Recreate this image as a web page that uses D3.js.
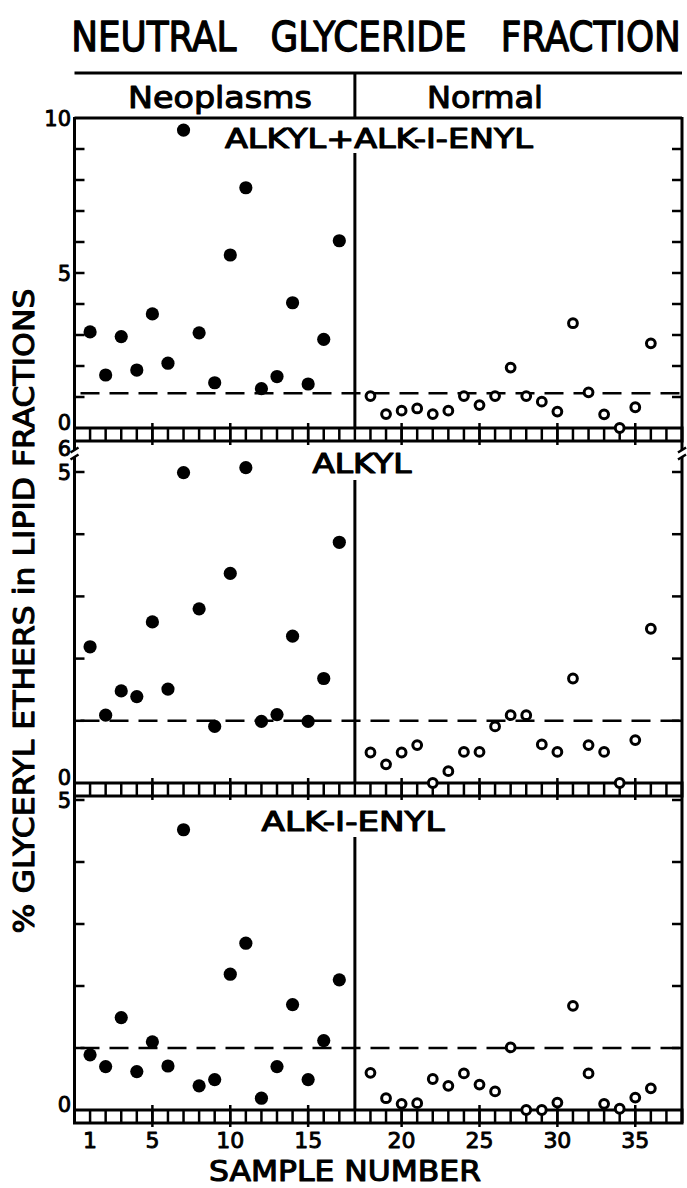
<!DOCTYPE html>
<html>
<head>
<meta charset="utf-8">
<script src="https://cdn.jsdelivr.net/npm/d3@7"></script>
<style>
  html, body { margin: 0; padding: 0; background: #fff; }
  svg { display: block; }
  text { font-family: "DejaVu Sans", sans-serif; fill: #000; }
</style>
</head>
<body>
<svg id="chart" width="687" height="1188"></svg>
<script>
// ---------------- DATA ----------------
const neoSamples  = [1,2,3,4,5,6,7,8,9,10,11,12,13,14,15,16,17];
const normSamples = [18,19,20,21,22,23,24,25,26,27,28,29,30,31,32,33,34,35,36];
const xTickLabels = [1,5,10,15,20,25,30,35];
const stripTicks  = [5,10,15,20,25,30,35];

const chartTitle  = "NEUTRAL   GLYCERIDE   FRACTION";
const panelTitles = ["ALKYL+ALK-I-ENYL", "ALKYL", "ALK-I-ENYL"];

const combinedNeo  = [3.10,1.71,2.95,1.87,3.68,2.09,9.61,3.07,1.46,5.58,7.75,1.27,1.66,4.04,1.42,2.86,6.04];
const combinedNorm = [1.03,0.45,0.56,0.63,0.45,0.56,1.03,0.74,1.03,1.95,1.03,0.85,0.53,3.38,1.15,0.44,0.00,0.67,2.73];

const alkylNeo  = [2.19,1.09,1.48,1.39,2.59,1.51,4.99,2.80,0.91,3.37,5.07,0.99,1.10,2.36,0.99,1.68,3.87];
const alkylNorm = [0.49,0.30,0.49,0.61,0.00,0.19,0.50,0.50,0.91,1.09,1.09,0.62,0.50,1.68,0.61,0.50,0.00,0.69,2.48];

const alkenylNeo  = [0.89,0.70,1.49,0.62,1.10,0.71,4.52,0.39,0.49,2.19,2.69,0.19,0.70,1.70,0.49,1.12,2.10];
const alkenylNorm = [0.60,0.19,0.10,0.11,0.50,0.39,0.59,0.41,0.30,1.01,0.00,0.00,0.12,1.68,0.59,0.10,0.02,0.20,0.35];

const refLines = [1.12, 1.0, 1.0];
const yMax     = [10, 5, 5];
const yTickLabelsList = [[0,5,10],[0,5],[0,5]];

// ---------------- LAYOUT ----------------
const svg = d3.select("#chart");
const BLACK = "#000";
const xLeft = 74.5, xRight = 682;
const x = d3.scaleLinear().domain([0, 39]).range([xLeft, xRight]);
const pos = s => (s <= 17 ? s : s + 1);   // one empty slot at the group divider
const dividerPos = 18;

const panels = [
  { y: d3.scaleLinear().domain([0, yMax[0]]).range([428, 118]), divTop: 153, titleY: 148, titleX: 379, titleLen: 308,
    neo: combinedNeo, norm: combinedNorm },
  { y: d3.scaleLinear().domain([0, yMax[1]]).range([783, 472]), divTop: 480, titleY: 473, titleX: 362, titleLen: 99,
    neo: alkylNeo, norm: alkylNorm },
  { y: d3.scaleLinear().domain([0, yMax[2]]).range([1110, 800]), divTop: 837, titleY: 831, titleX: 353, titleLen: 183,
    neo: alkenylNeo, norm: alkenylNorm }
];
const stripH = 13;

function heavy(sel, w) { return sel.attr("stroke", BLACK).attr("stroke-width", w).attr("stroke-linejoin", "round"); }

// text placed at (cx, by) centred, horizontally scaled to a target width
function fitted(cx, by, size, width, str, w, rotate) {
  const t = svg.append("text").attr("text-anchor", "middle").attr("font-size", size)
    .style("white-space", "pre").text(str);
  heavy(t, w);
  const natural = t.node().getComputedTextLength();
  const s = width / natural;
  t.attr("transform", `translate(${cx},${by})` + (rotate ? " rotate(-90)" : "") + ` scale(${s},1)`);
  return t;
}

// ---------------- HEADER ----------------
fitted(376, 51, 41, 610, chartTitle, 1.3);
svg.append("line").attr("x1", xLeft).attr("x2", xRight).attr("y1", 73).attr("y2", 73)
  .attr("stroke", BLACK).attr("stroke-width", 3);
svg.append("line").attr("x1", x(dividerPos)).attr("x2", x(dividerPos)).attr("y1", 73).attr("y2", 118)
  .attr("stroke", BLACK).attr("stroke-width", 3);
fitted(220, 108, 31, 184, "Neoplasms", 1.1);
fitted(485, 108, 31, 116, "Normal", 1.1);

// top frame line
svg.append("line").attr("x1", xLeft).attr("x2", xRight).attr("y1", 118).attr("y2", 118)
  .attr("stroke", BLACK).attr("stroke-width", 3);

// ---------------- PANELS ----------------
panels.forEach((p, i) => {
  const g = svg.append("g");
  const y0 = p.y(0);

  // inward ticks, left and right
  const ticks = d3.range(1, yMax[i] + (i === 0 ? 0 : 1));
  g.selectAll(".lt").data(ticks).join("line")
    .attr("x1", xLeft).attr("x2", xLeft + 10).attr("y1", d => p.y(d)).attr("y2", d => p.y(d))
    .attr("stroke", BLACK).attr("stroke-width", 2.5);
  g.selectAll(".rt").data(ticks).join("line")
    .attr("x1", xRight - 10).attr("x2", xRight).attr("y1", d => p.y(d)).attr("y2", d => p.y(d))
    .attr("stroke", BLACK).attr("stroke-width", 2.5);

  // tick labels
  heavy(g.selectAll(".tl").data(yTickLabelsList[i]).join("text")
    .attr("x", 71).attr("y", d => p.y(d) + (d === 0 ? -5 : 1) + 7)
    .attr("text-anchor", "end").attr("font-size", 21)
    .text(d => d), 0.9);

  // divider
  g.append("line").attr("x1", x(dividerPos)).attr("x2", x(dividerPos))
    .attr("y1", p.divTop).attr("y2", y0).attr("stroke", BLACK).attr("stroke-width", 3);

  // dashed reference line
  g.append("line").attr("x1", xLeft).attr("x2", xRight)
    .attr("y1", p.y(refLines[i])).attr("y2", p.y(refLines[i]))
    .attr("stroke", BLACK).attr("stroke-width", 2.5).attr("stroke-dasharray", "19,10")
    .attr("stroke-dashoffset", -6);

  // title
  const tt = g.append("text").attr("text-anchor", "middle").attr("font-size", 27).text(panelTitles[i]);
  heavy(tt, 1.2);
  const sc = p.titleLen / tt.node().getComputedTextLength();
  tt.attr("transform", `translate(${p.titleX},${p.titleY}) scale(${sc},1)`);

  // strip of squares below zero
  g.append("rect").attr("x", xLeft).attr("y", y0).attr("width", xRight - xLeft).attr("height", stripH)
    .attr("fill", "#fff").attr("stroke", BLACK).attr("stroke-width", 3);
  g.selectAll(".cell").data(d3.range(1, 39)).join("line")
    .attr("x1", d => x(d)).attr("x2", d => x(d)).attr("y1", y0).attr("y2", y0 + stripH)
    .attr("stroke", BLACK).attr("stroke-width", 2.5);
  g.selectAll(".st").data(stripTicks).join("line")
    .attr("x1", d => x(pos(d))).attr("x2", d => x(pos(d)))
    .attr("y1", y0 - 5).attr("y2", y0 + stripH + 4)
    .attr("stroke", BLACK).attr("stroke-width", 2.5);

  // points
  g.selectAll(".neo").data(p.neo).join("circle")
    .attr("cx", (d, j) => x(pos(neoSamples[j]))).attr("cy", d => p.y(d))
    .attr("r", 6.6).attr("fill", BLACK);
  g.selectAll(".norm").data(p.norm).join("circle")
    .attr("cx", (d, j) => x(pos(normSamples[j]))).attr("cy", d => p.y(d))
    .attr("r", 4.4).attr("fill", "#fff").attr("stroke", BLACK).attr("stroke-width", 3);
});

// outer vertical axes
[xLeft, xRight].forEach(xx => {
  svg.append("line").attr("x1", xx).attr("x2", xx).attr("y1", 117).attr("y2", 1110 + stripH)
    .attr("stroke", BLACK).attr("stroke-width", 3);
});

// axis break marks between panel 1 and 2
[xLeft, xRight].forEach(xx => {
  svg.append("rect").attr("x", xx - 3).attr("y", 450).attr("width", 6).attr("height", 7).attr("fill", "#fff");
  [450, 457].forEach(yy => {
    svg.append("line").attr("x1", xx - 4).attr("x2", xx + 4).attr("y1", yy + 2.5).attr("y2", yy - 2.5)
      .attr("stroke", BLACK).attr("stroke-width", 2.5);
  });
});
heavy(svg.append("text").attr("x", 71).attr("y", 456).attr("text-anchor", "end")
  .attr("font-size", 21).text("6"), 0.9);

// ---------------- X AXIS LABELS ----------------
heavy(svg.selectAll(".xl").data(xTickLabels).join("text")
  .attr("x", d => x(pos(d))).attr("y", 1148).attr("text-anchor", "middle")
  .attr("font-size", 22).text(d => d), 0.9);
fitted(345, 1181, 28, 272, "SAMPLE NUMBER", 1.1);

// ---------------- Y AXIS TITLE ----------------
fitted(34, 611, 29, 645, "% GLYCERYL ETHERS in LIPID FRACTIONS", 1.1, true);
</script>
</body>
</html>
